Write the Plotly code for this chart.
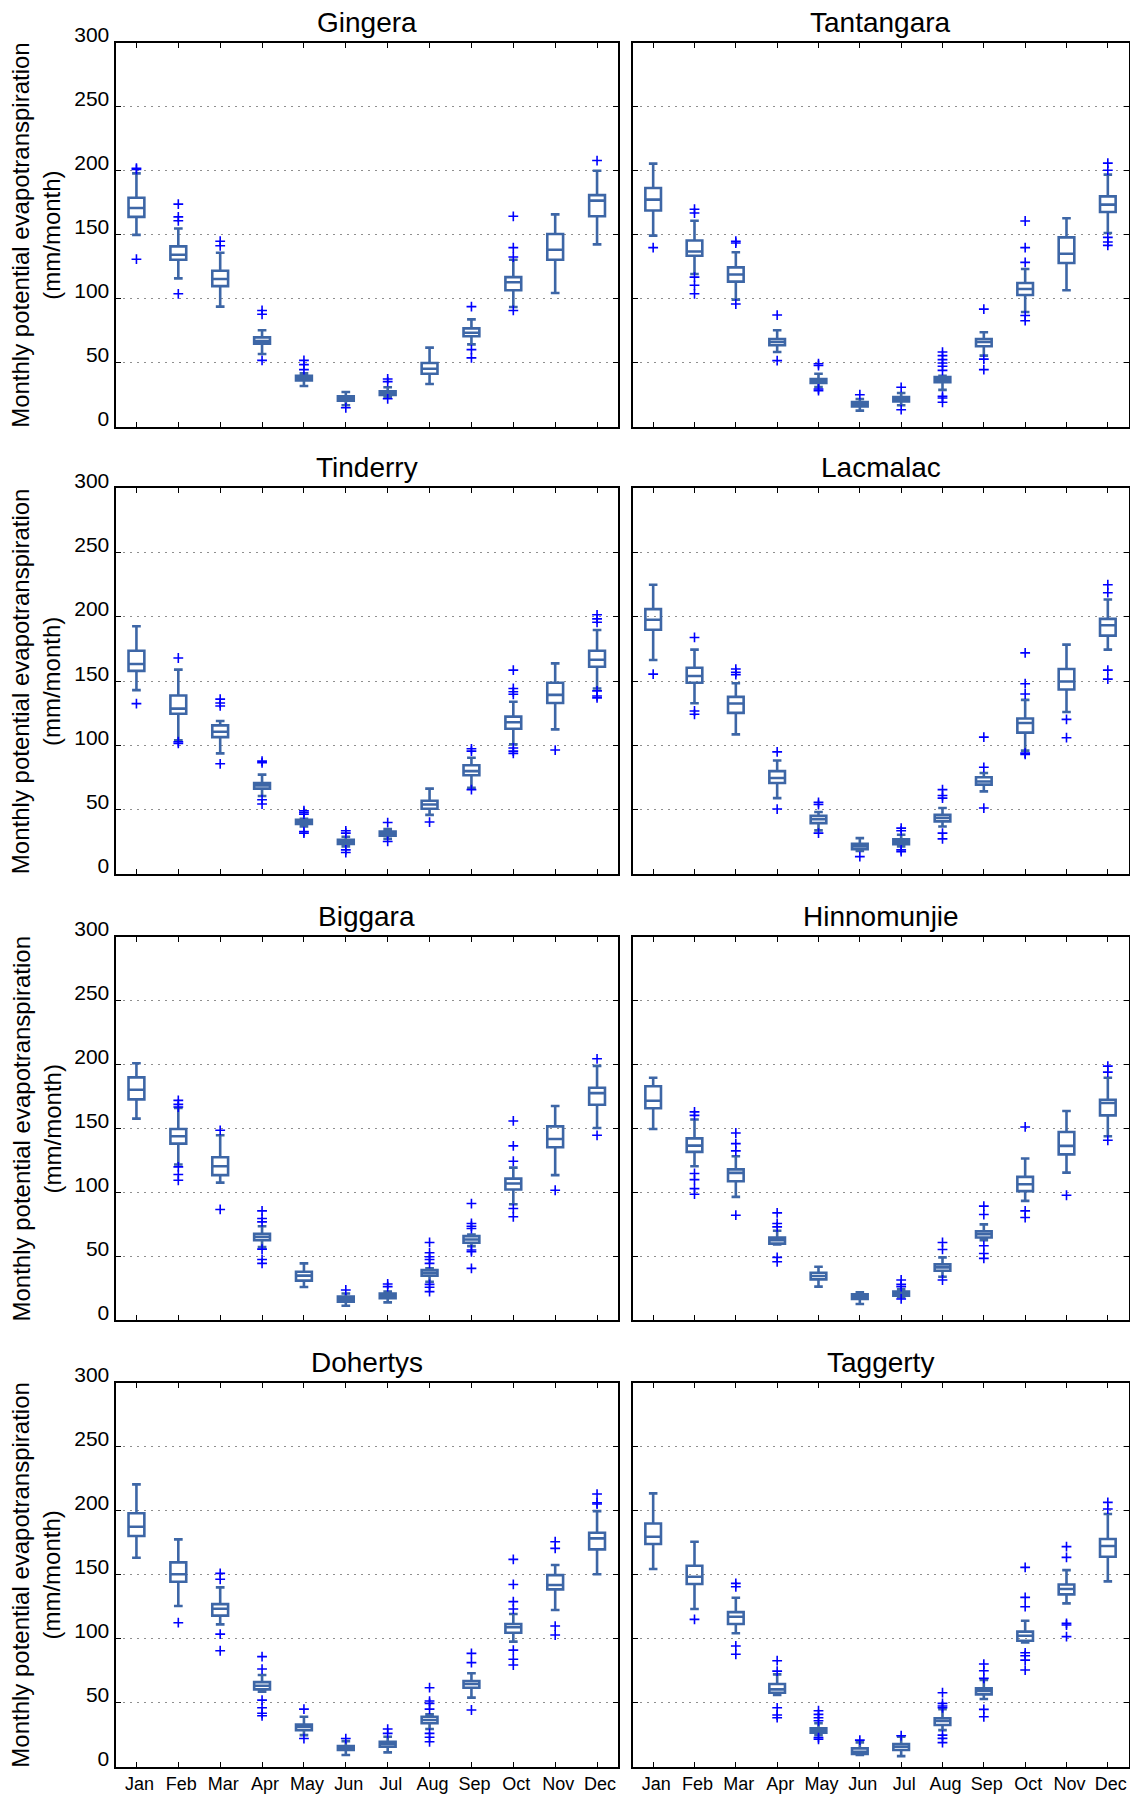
import plotly.graph_objects as go

MONTHS = ["Jan", "Feb", "Mar", "Apr", "May", "Jun", "Jul", "Aug", "Sep", "Oct", "Nov", "Dec"]
Y_TICKS = [0, 50, 100, 150, 200, 250, 300]

# Monthly potential evapotranspiration (mm/month): whisker ends, quartiles, medians, outliers
gingera_lo = [150, 116, 94, 57, 32, 17, 23.4, 33.6, 64.5, 93.7, 104.6, 142.6]
gingera_q1 = [164, 130.6, 110, 65, 36.4, 20.5, 25, 41.6, 70.8, 106.7, 130.6, 164.5]
gingera_med = [171, 134.5, 115.5, 67, 38, 22, 26.5, 45.5, 73.6, 113, 138.4, 176.7]
gingera_q3 = [179, 141, 122, 70, 40, 24, 27.8, 50, 77, 117, 150.7, 181]
gingera_hi = [198, 155, 136, 75.5, 42, 27.3, 31, 62, 84, 130.6, 166, 200]
gingera_out = [[201, 202, 131], [174, 164, 161, 104], [145, 141.5], [91, 88, 52],
               [52, 48.7, 44.8], [15], [37.5, 35.4, 22], [], [94, 60.4, 54],
               [164.5, 140, 132.7, 91], [], [208]]

tantangara_lo = [149.4, 119.4, 99.4, 58.5, 31.2, 12.8, 17, 29, 55.7, 89.8, 106.7, 151.4]
tantangara_q1 = [169, 133.7, 113.5, 63.8, 34.3, 16, 20, 34.9, 63, 103, 128, 167.8]
tantangara_med = [177.5, 137, 119, 66.4, 36, 18, 21.6, 37, 66.4, 107.7, 135.3, 173.6]
tantangara_q3 = [186.6, 145.6, 124.6, 68.7, 37.5, 19.5, 23.4, 39, 68.7, 112.4, 148, 180]
tantangara_hi = [205.6, 161, 136.4, 75.5, 41.6, 21.9, 26.5, 40, 74, 123.3, 163, 197]
tantangara_out = [[140], [170, 167, 117, 110.6, 104], [145, 143.6, 96], [87.4, 51.8],
                  [49.4, 48, 29.7, 28.4], [25.2], [31, 13.5],
                  [58.5, 55.7, 52.6, 50, 47.4, 44.2, 24, 22.6, 19.3], [92, 53, 44.8],
                  [160.8, 140, 128.5, 87, 83], [], [206, 200.4, 148, 144.4, 141.8]]

tinderry_lo = [143, 104, 93.8, 60.7, 37, 21.4, 27.3, 46, 67, 100.8, 112.5, 144.3]
tinderry_q1 = [158, 124.7, 106.5, 66.4, 39, 23.4, 29.7, 50.8, 76.8, 113, 133, 161.2]
tinderry_med = [163.3, 128.6, 110.7, 68.8, 40.9, 25, 31.2, 54, 80, 118, 139.3, 166.7]
tinderry_q3 = [173.7, 138.8, 115.6, 70.8, 42.2, 26.6, 33, 57, 84.6, 122.4, 148.7, 173.7]
tinderry_hi = [192.7, 159, 119, 77.3, 43, 29, 35, 66.4, 90.4, 134, 163.8, 189.8]
tinderry_out = [[132.5], [168, 102.9, 101.6], [136, 133, 130.7, 85.7], [87.8, 86.5, 57.8, 54.4],
                [49.2, 48, 46.6, 33, 31.8], [33.6, 31.8, 18.8, 16.7], [40, 25.3], [40.4],
                [97.4, 95.6, 65.6], [158.6, 144.3, 141.7, 139.8, 98, 95.6, 93.8], [96.4],
                [201.6, 198.4, 195.8, 142.4, 138.5, 137]]

lacmalac_lo = [166.4, 132.8, 108.6, 59, 33.9, 18, 21.4, 37, 64.3, 96, 126, 174.5]
lacmalac_q1 = [190, 148.7, 125.3, 70.8, 39.6, 19.3, 23.2, 40.9, 69.5, 110, 143.5, 185.4]
lacmalac_med = [197.7, 154, 132.6, 74.7, 42.7, 21.4, 25, 43.5, 72, 117.4, 149.7, 193.5]
lacmalac_q3 = [206, 160.4, 137.8, 80, 45.3, 23.4, 27, 46, 75.3, 121, 159.4, 198.4]
lacmalac_hi = [225, 174.5, 148.4, 88.3, 48.2, 27.9, 30.5, 51.3, 78.6, 135.4, 178.4, 213.5]
lacmalac_out = [[155.5], [184, 126.8, 124.2], [159.4, 156.8, 155], [95, 50.5], [55.7, 54, 31.8],
                [13.5], [35.7, 33.6, 18.8, 17.4], [65.6, 61, 59, 31.8, 27.3], [106.5, 83, 51.3],
                [172, 148, 140, 94, 93], [120.3, 106], [225, 218.8, 158.6, 151.6]]

biggara_lo = [157.7, 121.8, 107.7, 57.2, 26, 11.4, 14, 30.2, 58, 90.8, 113.5, 150.4]
biggara_q1 = [172.8, 138.2, 113.5, 62.7, 31, 14.6, 17.2, 34.9, 60.6, 102.3, 135.3, 168.6]
biggara_med = [180.3, 143.9, 120.5, 65.3, 34.9, 16.7, 19.3, 37.2, 63.2, 107, 141.8, 177.7]
biggara_q3 = [190, 149.6, 127.5, 67.7, 38, 18.5, 21, 39.3, 65.8, 110.8, 151.7, 181.9]
biggara_hi = [201, 166, 144.7, 73.6, 44.5, 21, 22.5, 40.6, 67, 119.4, 167.6, 199]
biggara_out = [[], [172, 168.9, 166.8, 120, 114, 109.5], [148.6, 86.7],
               [85.6, 79.6, 77, 55.7, 47.6, 44.5], [], [23.7], [28.4, 26.3],
               [60.9, 52.8, 49.7, 47.6, 44.5, 28.1, 25.8, 22.4],
               [91.3, 75.7, 73.6, 71.8, 55, 53.6, 40.6], [155.9, 136.4, 124.4, 87.4, 81],
               [101.7], [204.5, 144.7]]

hinnomunjie_lo = [149.6, 120.5, 96.5, 59.3, 26.3, 12.8, 18, 34.1, 62.7, 93.4, 115.5, 143.9]
hinnomunjie_q1 = [165.8, 131.7, 108.8, 60, 32, 16.7, 19.3, 38.8, 64.8, 101, 129.8, 160.3]
hinnomunjie_med = [171.7, 136.6, 115.3, 62.7, 34.6, 18.5, 20.8, 41.4, 67.4, 106.4, 136.4, 169.9]
hinnomunjie_q3 = [183, 142.3, 118, 64.8, 37.2, 20.3, 22.4, 43.7, 69.7, 112.2, 147.3, 172.5]
hinnomunjie_hi = [189.7, 157, 128.3, 70, 41.9, 21.9, 24.2, 49.2, 75, 126.5, 163.7, 189.7]
hinnomunjie_out = [[], [163, 160.3, 114.8, 110, 103, 98.6], [146.5, 138.2, 132.5, 82.2],
                   [84, 75.7, 73.1, 49.2, 45.8], [], [], [31.5, 28.1, 26.3, 16.7],
                   [60.9, 55.4, 31.5], [89.3, 82.7, 58.3, 52.3, 48.4], [151.2, 85.6, 80.4],
                   [97.8], [198.8, 194.1, 140.8]]

dohertys_lo = [163.3, 125.5, 111.2, 58.6, 24.7, 9.1, 11.2, 29.4, 54, 97.7, 122.4, 150.3]
dohertys_q1 = [180.2, 144.5, 118, 60.4, 28.6, 13, 15.6, 33.9, 61.7, 104.7, 138.5, 169.8]
dohertys_med = [187.5, 150.3, 123.4, 63.3, 31.2, 14.3, 17.7, 36.5, 64.6, 108.9, 141.9, 178.4]
dohertys_q3 = [198, 159.6, 127, 66.1, 33, 16.1, 19.5, 39, 67, 111.5, 149.7, 182.8]
dohertys_hi = [220.6, 177.6, 140.1, 71.6, 39, 20, 23.4, 40.9, 73, 119.3, 157.6, 199.7]
dohertys_out = [[], [112.5], [151, 146.4, 103.6, 90.6], [86, 76.3, 52, 46, 41.7, 39.8],
                [45, 22], [22], [29.4, 26], [61.7, 51.3, 49.5, 45, 26, 23, 19.5],
                [88.5, 81.3, 44.3], [162, 142.4, 129, 123.2, 91.1, 83.9, 79.4],
                [175.8, 170.6, 109.9, 102.9], [213, 206.2, 205.2]]

taggerty_lo = [154.4, 123.2, 104.2, 56, 24.7, 9.1, 8.3, 28.6, 52.9, 97, 127.6, 144.8]
taggerty_q1 = [174, 142.7, 111.5, 57.8, 26.6, 9.9, 13, 32.6, 56.5, 98.4, 134.6, 164]
taggerty_med = [179.7, 148.4, 117.2, 60.4, 28.6, 11.7, 15.6, 35.7, 59.1, 102.3, 138.8, 172.4]
taggerty_q3 = [190, 157, 120.8, 64.6, 30, 14.3, 17.7, 37.8, 61.2, 105.5, 142.4, 177.9]
taggerty_hi = [213.5, 175.8, 132, 72.1, 33.9, 19, 23.4, 45, 67.7, 114, 153.6, 197.4]
taggerty_out = [[], [115.1], [143.2, 140.6, 94.3, 87.8], [82.8, 74.7, 46, 40.4, 38.3],
                [43.7, 40.9, 38.3, 35.9, 22.7, 21.4], [20.8], [24.2],
                [57.8, 49.5, 47.4, 46, 24.7, 22.1, 18.8], [80.2, 75, 69, 44.8, 39],
                [155.7, 132.3, 125, 89, 86.7, 83.3, 75.5], [171.9, 163.5, 112, 110.7, 101.6],
                [206.5, 201.3]]

STATIONS = [
    ("Gingera", gingera_lo, gingera_q1, gingera_med, gingera_q3, gingera_hi, gingera_out),
    ("Tantangara", tantangara_lo, tantangara_q1, tantangara_med, tantangara_q3, tantangara_hi, tantangara_out),
    ("Tinderry", tinderry_lo, tinderry_q1, tinderry_med, tinderry_q3, tinderry_hi, tinderry_out),
    ("Lacmalac", lacmalac_lo, lacmalac_q1, lacmalac_med, lacmalac_q3, lacmalac_hi, lacmalac_out),
    ("Biggara", biggara_lo, biggara_q1, biggara_med, biggara_q3, biggara_hi, biggara_out),
    ("Hinnomunjie", hinnomunjie_lo, hinnomunjie_q1, hinnomunjie_med, hinnomunjie_q3, hinnomunjie_hi, hinnomunjie_out),
    ("Dohertys", dohertys_lo, dohertys_q1, dohertys_med, dohertys_q3, dohertys_hi, dohertys_out),
    ("Taggerty", taggerty_lo, taggerty_q1, taggerty_med, taggerty_q3, taggerty_hi, taggerty_out),
]

W, H = 1130, 1794
FONT = "Liberation Sans, Arial, sans-serif"
BOX_COLOR = "#3d66a6"
FLIER_COLOR = "#0000ff"
Y_TITLE = "Monthly potential evapotranspiration<br>(mm/month)"

# panel frames in pixels: columns (left, right), rows (top, bottom)
COLS = [(115.5, 618.0), (632.5, 1128.5)]
ROWS = [(42.7, 427.0), (488.3, 874.0), (936.7, 1320.3), (1382.7, 1766.7)]

fig = go.Figure()
layout = dict(
    width=W, height=H,
    margin=dict(l=0, r=0, t=0, b=0),
    paper_bgcolor="white", plot_bgcolor="white",
    font=dict(family=FONT, color="black"),
    boxgap=0.46, showlegend=False,
    annotations=[],
)

for i, (name, lo, q1, med, q3, hi, out) in enumerate(STATIONS):
    r, c = divmod(i, 2)
    x0, x1 = COLS[c]
    top, bot = ROWS[r]
    xd = [x0 / W, x1 / W]
    yd = [1 - bot / H, 1 - top / H]
    n = i + 1
    xa = "x" if n == 1 else f"x{n}"
    ya = "y" if n == 1 else f"y{n}"

    fig.add_trace(go.Box(
        x=MONTHS, q1=q1, median=med, q3=q3, lowerfence=lo, upperfence=hi,
        line=dict(color=BOX_COLOR, width=2.6), fillcolor="rgba(0,0,0,0)",
        whiskerwidth=0.55, boxpoints=False, xaxis=xa, yaxis=ya,
        hoverinfo="skip", name=name,
    ))

    fx, fy = [], []
    for m, vals in zip(MONTHS, out):
        fx += [m] * len(vals)
        fy += vals
    fig.add_trace(go.Scatter(
        x=fx, y=fy, mode="markers", xaxis=xa, yaxis=ya, hoverinfo="skip",
        marker=dict(symbol="cross-thin", size=7, color=FLIER_COLOR,
                    line=dict(color=FLIER_COLOR, width=1.6)),
    ))

    layout["xaxis" if n == 1 else f"xaxis{n}"] = dict(
        domain=xd, anchor=ya, type="category", categoryorder="array",
        categoryarray=MONTHS, range=[-0.5, 11.5],
        showline=True, linecolor="black", linewidth=2, mirror="ticks",
        ticks="inside", ticklen=5, tickwidth=1, tickcolor="black",
        showgrid=False, zeroline=False, automargin=False,
        showticklabels=(r == 3), tickfont=dict(size=18, family=FONT),
        ticklabelshift=3,
    )
    layout["yaxis" if n == 1 else f"yaxis{n}"] = dict(
        domain=yd, anchor=xa, range=[0, 300], tickvals=Y_TICKS,
        ticktext=[str(v) for v in Y_TICKS],
        showline=True, linecolor="black", linewidth=2, mirror="ticks",
        ticks="inside", ticklen=5, tickwidth=1, tickcolor="black",
        showgrid=True, gridcolor="#8f8f8f", gridwidth=1, griddash="2px,5px",
        zeroline=False, automargin=False,
        showticklabels=(c == 0), tickfont=dict(size=21, family=FONT),
        ticklabelshift=-8,
    )

    layout["annotations"].append(dict(
        text=name, x=(xd[0] + xd[1]) / 2, y=yd[1], xref="paper", yref="paper",
        xanchor="center", yanchor="bottom", yshift=3, showarrow=False,
        font=dict(size=28, family=FONT, color="black"),
    ))
    if c == 0:
        layout["annotations"].append(dict(
            text=Y_TITLE, x=36 / W, y=(yd[0] + yd[1]) / 2, xref="paper", yref="paper",
            xanchor="center", yanchor="middle", textangle=-90, showarrow=False,
            font=dict(size=24, family=FONT, color="black"),
        ))

fig.update_layout(**layout)
fig.write_html("out.html")
